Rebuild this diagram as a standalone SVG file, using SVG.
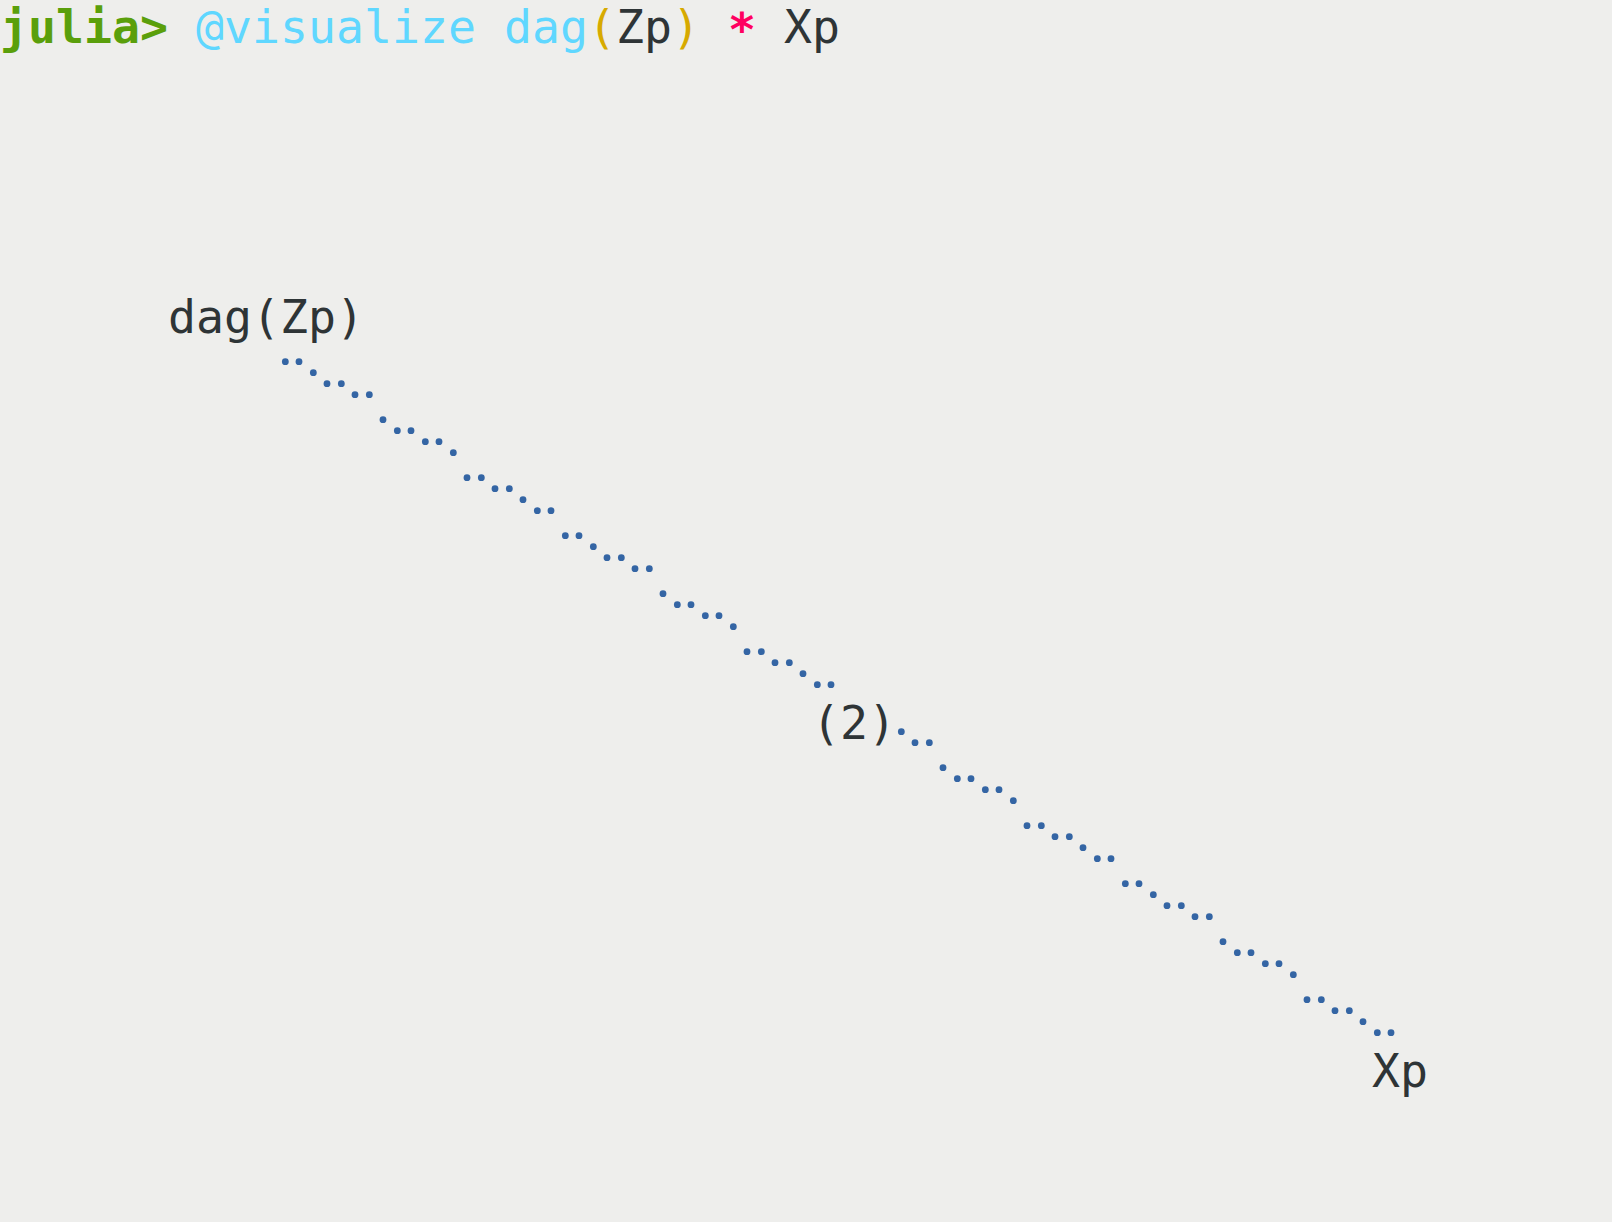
<svg xmlns="http://www.w3.org/2000/svg" width="1612" height="1222" viewBox="0 0 1612 1222">
<style>
.t{font-family:"DejaVu Sans Mono","Liberation Mono",monospace;font-size:46.5px;fill:#2e3436}
.b{font-weight:bold;fill:#5a9f0b}
.c{fill:#5fd7ff}
.y{fill:#d7aa00}
.s{fill:#ff0060;font-weight:bold}
.d{fill:#3465a4}
</style>
<rect width="1612" height="1222" fill="#eeeeec"/>
<text class="t" x="0" y="43" xml:space="preserve"><tspan class="b">julia&gt;</tspan> <tspan class="c">@visualize dag</tspan><tspan class="y">(</tspan>Zp<tspan class="y">)</tspan> <tspan class="s" dy="3">*</tspan><tspan dy="-3"> Xp</tspan></text>
<g id="node-dagZp"><text class="t" x="168" y="333">dag(Zp)</text></g>
<g id="node-2"><text class="t" x="812" y="739">(2)</text></g>
<g id="node-Xp"><text class="t" x="1372" y="1087">Xp</text></g>
<g id="connectors">
<g id="edge-dagZp-2">
<circle class="d" cx="285.33" cy="361.67" r="3.4"/><circle class="d" cx="299" cy="361.67" r="3.4"/>
<circle class="d" cx="313.33" cy="372.67" r="3.4"/><circle class="d" cx="327" cy="383.67" r="3.4"/>
<circle class="d" cx="341.33" cy="383.67" r="3.4"/><circle class="d" cx="355" cy="394.67" r="3.4"/>
<circle class="d" cx="369.33" cy="394.67" r="3.4"/><circle class="d" cx="383" cy="419.67" r="3.4"/>
<circle class="d" cx="397.33" cy="430.67" r="3.4"/><circle class="d" cx="411" cy="430.67" r="3.4"/>
<circle class="d" cx="425.33" cy="441.67" r="3.4"/><circle class="d" cx="439" cy="441.67" r="3.4"/>
<circle class="d" cx="453.33" cy="452.67" r="3.4"/><circle class="d" cx="467" cy="477.67" r="3.4"/>
<circle class="d" cx="481.33" cy="477.67" r="3.4"/><circle class="d" cx="495" cy="488.67" r="3.4"/>
<circle class="d" cx="509.33" cy="488.67" r="3.4"/><circle class="d" cx="523" cy="499.67" r="3.4"/>
<circle class="d" cx="537.33" cy="510.67" r="3.4"/><circle class="d" cx="551" cy="510.67" r="3.4"/>
<circle class="d" cx="565.33" cy="535.67" r="3.4"/><circle class="d" cx="579" cy="535.67" r="3.4"/>
<circle class="d" cx="593.33" cy="546.67" r="3.4"/><circle class="d" cx="607" cy="557.67" r="3.4"/>
<circle class="d" cx="621.33" cy="557.67" r="3.4"/><circle class="d" cx="635" cy="568.67" r="3.4"/>
<circle class="d" cx="649.33" cy="568.67" r="3.4"/><circle class="d" cx="663" cy="593.67" r="3.4"/>
<circle class="d" cx="677.33" cy="604.67" r="3.4"/><circle class="d" cx="691" cy="604.67" r="3.4"/>
<circle class="d" cx="705.33" cy="615.67" r="3.4"/><circle class="d" cx="719" cy="615.67" r="3.4"/>
<circle class="d" cx="733.33" cy="626.67" r="3.4"/><circle class="d" cx="747" cy="651.67" r="3.4"/>
<circle class="d" cx="761.33" cy="651.67" r="3.4"/><circle class="d" cx="775" cy="662.67" r="3.4"/>
<circle class="d" cx="789.33" cy="662.67" r="3.4"/><circle class="d" cx="803" cy="673.67" r="3.4"/>
<circle class="d" cx="817.33" cy="684.67" r="3.4"/><circle class="d" cx="831" cy="684.67" r="3.4"/>
</g>
<g id="edge-2-Xp">
<circle class="d" cx="901.33" cy="731.67" r="3.4"/><circle class="d" cx="915" cy="742.67" r="3.4"/>
<circle class="d" cx="929.33" cy="742.67" r="3.4"/><circle class="d" cx="943" cy="767.67" r="3.4"/>
<circle class="d" cx="957.33" cy="778.67" r="3.4"/><circle class="d" cx="971" cy="778.67" r="3.4"/>
<circle class="d" cx="985.33" cy="789.67" r="3.4"/><circle class="d" cx="999" cy="789.67" r="3.4"/>
<circle class="d" cx="1013.33" cy="800.67" r="3.4"/><circle class="d" cx="1027" cy="825.67" r="3.4"/>
<circle class="d" cx="1041.33" cy="825.67" r="3.4"/><circle class="d" cx="1055" cy="836.67" r="3.4"/>
<circle class="d" cx="1069.33" cy="836.67" r="3.4"/><circle class="d" cx="1083" cy="847.67" r="3.4"/>
<circle class="d" cx="1097.33" cy="858.67" r="3.4"/><circle class="d" cx="1111" cy="858.67" r="3.4"/>
<circle class="d" cx="1125.33" cy="883.67" r="3.4"/><circle class="d" cx="1139" cy="883.67" r="3.4"/>
<circle class="d" cx="1153.33" cy="894.67" r="3.4"/><circle class="d" cx="1167" cy="905.67" r="3.4"/>
<circle class="d" cx="1181.33" cy="905.67" r="3.4"/><circle class="d" cx="1195" cy="916.67" r="3.4"/>
<circle class="d" cx="1209.33" cy="916.67" r="3.4"/><circle class="d" cx="1223" cy="941.67" r="3.4"/>
<circle class="d" cx="1237.33" cy="952.67" r="3.4"/><circle class="d" cx="1251" cy="952.67" r="3.4"/>
<circle class="d" cx="1265.33" cy="963.67" r="3.4"/><circle class="d" cx="1279" cy="963.67" r="3.4"/>
<circle class="d" cx="1293.33" cy="974.67" r="3.4"/><circle class="d" cx="1307" cy="999.67" r="3.4"/>
<circle class="d" cx="1321.33" cy="999.67" r="3.4"/><circle class="d" cx="1335" cy="1010.67" r="3.4"/>
<circle class="d" cx="1349.33" cy="1010.67" r="3.4"/><circle class="d" cx="1363" cy="1021.67" r="3.4"/>
<circle class="d" cx="1377.33" cy="1032.67" r="3.4"/><circle class="d" cx="1391" cy="1032.67" r="3.4"/>
</g>
</g>
</svg>
